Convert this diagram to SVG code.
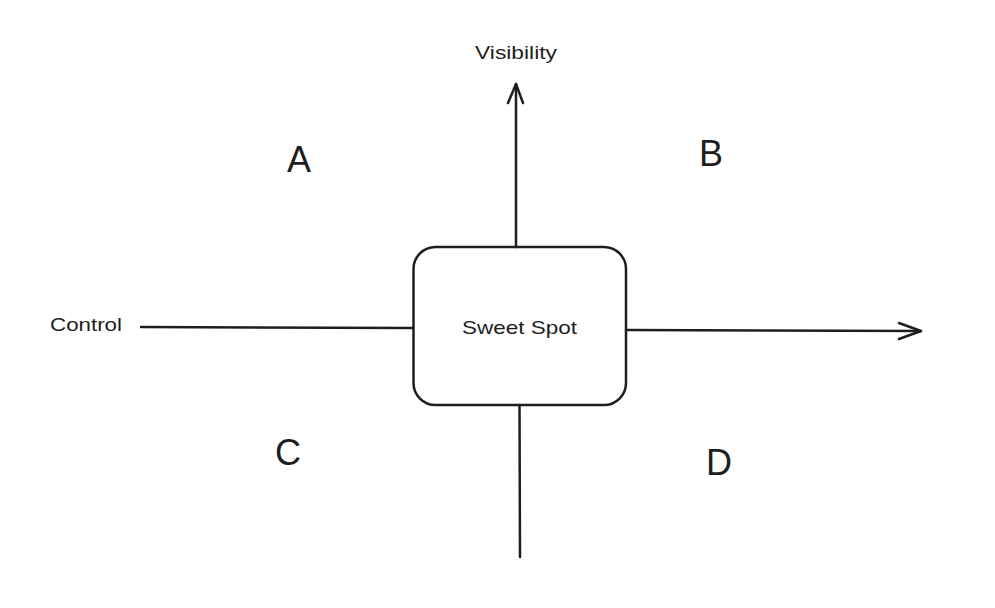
<svg xmlns="http://www.w3.org/2000/svg" width="995" height="608" viewBox="0 0 995 608">
<style>
.ln{stroke:#1e1e1e;stroke-width:2.5;fill:none;stroke-linecap:round;stroke-linejoin:round}
.t{font-family:"Liberation Sans",Arial,sans-serif;fill:#1e1e1e}
.lbl{font-size:18px}
.big{font-size:36px;text-anchor:middle}
</style>
<rect width="995" height="608" fill="#ffffff"/>
<g id="connectors">
<path class="ln" d="M516 247 L516 84"/>
<path class="ln" d="M508 103 L516 84 L523 103"/>
<path class="ln" d="M519.5 405 L520 557"/>
<path class="ln" d="M141 327 L413 328"/>
<path class="ln" d="M626 330 L921 331"/>
<path class="ln" d="M899 323 L921 331 L899 339"/>
</g>
<g id="sweet-spot">
<rect class="ln" x="413.5" y="247" width="212.5" height="158" rx="22" fill="#ffffff"/>
<text class="t" x="462" y="334" font-size="19" textLength="115" lengthAdjust="spacingAndGlyphs">Sweet Spot</text>
</g>
<g id="visibility"><text class="t lbl" x="475" y="59" textLength="82" lengthAdjust="spacingAndGlyphs">Visibility</text></g>
<g id="control"><text class="t lbl" x="50" y="331" textLength="72" lengthAdjust="spacingAndGlyphs">Control</text></g>
<g id="label-a"><text class="t big" x="299" y="172">A</text></g>
<g id="label-b"><text class="t big" x="711" y="166">B</text></g>
<g id="label-c"><text class="t big" x="288" y="465">C</text></g>
<g id="label-d"><text class="t big" x="719" y="475">D</text></g>
</svg>
